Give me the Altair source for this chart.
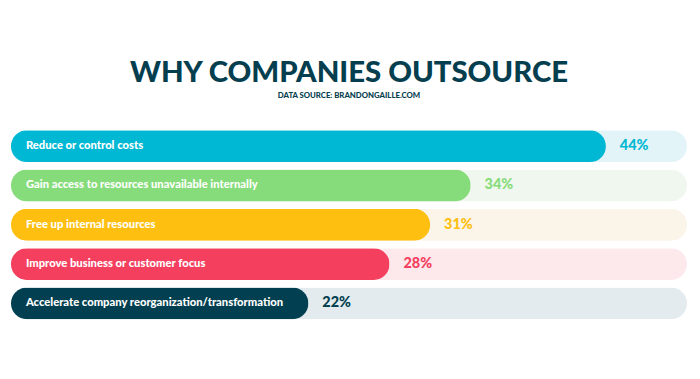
import altair as alt
import pandas as pd

categories = [
    "Reduce or control costs",
    "Gain access to resources unavailable internally",
    "Free up internal resources",
    "Improve business or customer focus",
    "Accelerate company reorganization/transformation",
]
values = [44, 34, 31, 28, 22]
labels = ["44%", "34%", "31%", "28%", "22%"]
bar_colors = ["#00B8D3", "#86DC7A", "#FFBF10", "#F53F5F", "#023F50"]
track_colors = ["#E3F4F8", "#F0F7EE", "#FBF4E8", "#FDE8EC", "#E3EBEE"]
track_max = [50, 50, 50, 50, 50]
track_start = [0, 0, 0, 0, 0]

df = pd.DataFrame({
    "category": categories,
    "value": values,
    "label": labels,
    "bar_color": bar_colors,
    "track_color": track_colors,
    "track": track_max,
    "start": track_start,
})

FONT = "Lato"
xscale = alt.Scale(domain=[0, 50], nice=False, zero=True)
y = alt.Y("category:N", sort=categories, axis=None,
          scale=alt.Scale(paddingInner=0.19, paddingOuter=0.1))

base = alt.Chart(df)

track = base.mark_bar(cornerRadius=16).encode(
    x=alt.X("track:Q", scale=xscale, axis=None),
    y=y,
    color=alt.Color("track_color:N", scale=None),
)
bar = base.mark_bar(cornerRadius=16).encode(
    x=alt.X("value:Q", scale=xscale, axis=None),
    y=y,
    color=alt.Color("bar_color:N", scale=None),
)
cat_text = base.mark_text(
    align="left", baseline="middle", dx=15, color="white",
    fontWeight=900, fontSize=11.3, font=FONT,
).encode(x=alt.X("start:Q", scale=xscale, axis=None), y=y, text="category:N")
val_text = base.mark_text(
    align="left", baseline="middle", dx=14,
    fontWeight=900, fontSize=14.5, font=FONT,
).encode(
    x=alt.X("value:Q", scale=xscale, axis=None),
    y=y,
    text="label:N",
    color=alt.Color("bar_color:N", scale=None),
)

chart = alt.layer(track, bar, cat_text, val_text).properties(
    width=680,
    height=198,
    title=alt.TitleParams(
        text="WHY COMPANIES OUTSOURCE",
        subtitle="DATA SOURCE: BRANDONGAILLE.COM",
        anchor="middle",
        font=FONT,
        fontSize=29.5,
        fontWeight=900,
        color="#053E4F",
        subtitleFont=FONT,
        subtitleFontSize=7.8,
        subtitleFontWeight=900,
        subtitleColor="#053E4F",
        subtitlePadding=3,
        offset=26,
    ),
).configure(
    autosize=alt.AutoSizeParams(type="none"),
    padding={"left": 3, "top": 118, "right": 5, "bottom": 40},
).configure_view(stroke=None)

chart.save("out.html", embed_options={"renderer": "svg", "actions": False})
